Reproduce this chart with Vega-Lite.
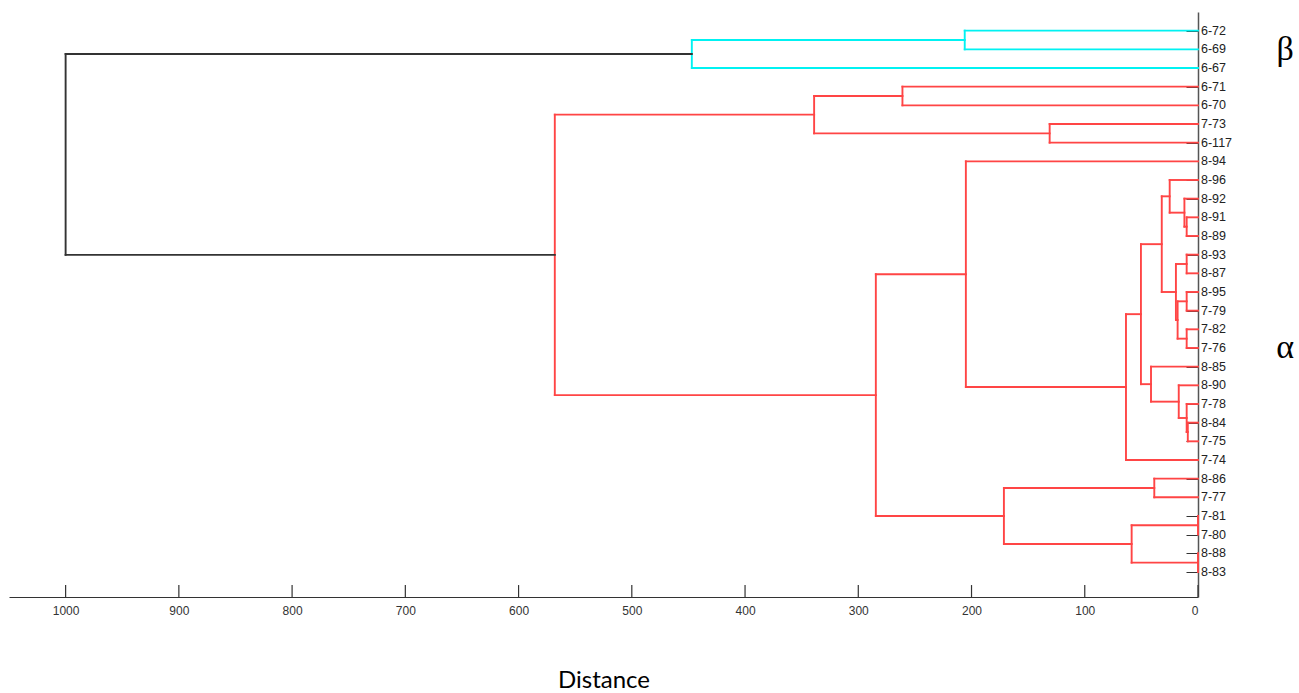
{
  "$schema": "https://vega.github.io/schema/vega-lite/v6.json",
  "width": 1189,
  "height": 585,
  "autosize": {"type": "none"},
  "padding": {"left": 9, "top": 12, "right": 101, "bottom": 96},
  "background": "white",
  "config": {"view": {"stroke": null}},
  "layer": [
    {
      "data": {"values": [
        {"x":206,"x2":206,"y":1,"y2":2,"g":"b"},
        {"x":0,"x2":206,"y":1,"y2":1,"g":"b"},
        {"x":0,"x2":206,"y":2,"y2":2,"g":"b"},
        {"x":447,"x2":447,"y":1.5,"y2":3,"g":"b"},
        {"x":206,"x2":447,"y":1.5,"y2":1.5,"g":"b"},
        {"x":0,"x2":447,"y":3,"y2":3,"g":"b"},
        {"x":261,"x2":261,"y":4,"y2":5,"g":"a"},
        {"x":0,"x2":261,"y":4,"y2":4,"g":"a"},
        {"x":0,"x2":261,"y":5,"y2":5,"g":"a"},
        {"x":131,"x2":131,"y":6,"y2":7,"g":"a"},
        {"x":0,"x2":131,"y":6,"y2":6,"g":"a"},
        {"x":0,"x2":131,"y":7,"y2":7,"g":"a"},
        {"x":339,"x2":339,"y":4.5,"y2":6.5,"g":"a"},
        {"x":261,"x2":339,"y":4.5,"y2":4.5,"g":"a"},
        {"x":131,"x2":339,"y":6.5,"y2":6.5,"g":"a"},
        {"x":10,"x2":10,"y":11,"y2":12,"g":"a"},
        {"x":0,"x2":10,"y":11,"y2":11,"g":"a"},
        {"x":0,"x2":10,"y":12,"y2":12,"g":"a"},
        {"x":12,"x2":12,"y":10,"y2":11.5,"g":"a"},
        {"x":0,"x2":12,"y":10,"y2":10,"g":"a"},
        {"x":10,"x2":12,"y":11.5,"y2":11.5,"g":"a"},
        {"x":25,"x2":25,"y":9,"y2":10.75,"g":"a"},
        {"x":0,"x2":25,"y":9,"y2":9,"g":"a"},
        {"x":12,"x2":25,"y":10.75,"y2":10.75,"g":"a"},
        {"x":10,"x2":10,"y":13,"y2":14,"g":"a"},
        {"x":0,"x2":10,"y":13,"y2":13,"g":"a"},
        {"x":0,"x2":10,"y":14,"y2":14,"g":"a"},
        {"x":10,"x2":10,"y":15,"y2":16,"g":"a"},
        {"x":0,"x2":10,"y":15,"y2":15,"g":"a"},
        {"x":0,"x2":10,"y":16,"y2":16,"g":"a"},
        {"x":10,"x2":10,"y":17,"y2":18,"g":"a"},
        {"x":0,"x2":10,"y":17,"y2":17,"g":"a"},
        {"x":0,"x2":10,"y":18,"y2":18,"g":"a"},
        {"x":18,"x2":18,"y":15.5,"y2":17.5,"g":"a"},
        {"x":10,"x2":18,"y":15.5,"y2":15.5,"g":"a"},
        {"x":10,"x2":18,"y":17.5,"y2":17.5,"g":"a"},
        {"x":19.5,"x2":19.5,"y":13.5,"y2":16.5,"g":"a"},
        {"x":10,"x2":19.5,"y":13.5,"y2":13.5,"g":"a"},
        {"x":18,"x2":19.5,"y":16.5,"y2":16.5,"g":"a"},
        {"x":32,"x2":32,"y":9.875,"y2":15,"g":"a"},
        {"x":25,"x2":32,"y":9.875,"y2":9.875,"g":"a"},
        {"x":19.5,"x2":32,"y":15,"y2":15,"g":"a"},
        {"x":9,"x2":9,"y":22,"y2":23,"g":"a"},
        {"x":0,"x2":9,"y":22,"y2":22,"g":"a"},
        {"x":0,"x2":9,"y":23,"y2":23,"g":"a"},
        {"x":10,"x2":10,"y":21,"y2":22.5,"g":"a"},
        {"x":0,"x2":10,"y":21,"y2":21,"g":"a"},
        {"x":9,"x2":10,"y":22.5,"y2":22.5,"g":"a"},
        {"x":17,"x2":17,"y":20,"y2":21.75,"g":"a"},
        {"x":0,"x2":17,"y":20,"y2":20,"g":"a"},
        {"x":10,"x2":17,"y":21.75,"y2":21.75,"g":"a"},
        {"x":41.5,"x2":41.5,"y":19,"y2":20.875,"g":"a"},
        {"x":0,"x2":41.5,"y":19,"y2":19,"g":"a"},
        {"x":17,"x2":41.5,"y":20.875,"y2":20.875,"g":"a"},
        {"x":50.4,"x2":50.4,"y":12.4375,"y2":19.9375,"g":"a"},
        {"x":32,"x2":50.4,"y":12.4375,"y2":12.4375,"g":"a"},
        {"x":41.5,"x2":50.4,"y":19.9375,"y2":19.9375,"g":"a"},
        {"x":63.6,"x2":63.6,"y":16.1875,"y2":24,"g":"a"},
        {"x":50.4,"x2":63.6,"y":16.1875,"y2":16.1875,"g":"a"},
        {"x":0,"x2":63.6,"y":24,"y2":24,"g":"a"},
        {"x":205,"x2":205,"y":8,"y2":20.09375,"g":"a"},
        {"x":0,"x2":205,"y":8,"y2":8,"g":"a"},
        {"x":63.6,"x2":205,"y":20.09375,"y2":20.09375,"g":"a"},
        {"x":38.6,"x2":38.6,"y":25,"y2":26,"g":"a"},
        {"x":0,"x2":38.6,"y":25,"y2":25,"g":"a"},
        {"x":0,"x2":38.6,"y":26,"y2":26,"g":"a"},
        {"x":0,"x2":0,"y":27,"y2":28,"g":"a"},
        {"x":0,"x2":0,"y":29,"y2":30,"g":"a"},
        {"x":58.6,"x2":58.6,"y":27.5,"y2":29.5,"g":"a"},
        {"x":0,"x2":58.6,"y":27.5,"y2":27.5,"g":"a"},
        {"x":0,"x2":58.6,"y":29.5,"y2":29.5,"g":"a"},
        {"x":171.4,"x2":171.4,"y":25.5,"y2":28.5,"g":"a"},
        {"x":38.6,"x2":171.4,"y":25.5,"y2":25.5,"g":"a"},
        {"x":58.6,"x2":171.4,"y":28.5,"y2":28.5,"g":"a"},
        {"x":284.5,"x2":284.5,"y":14.046875,"y2":27,"g":"a"},
        {"x":205,"x2":284.5,"y":14.046875,"y2":14.046875,"g":"a"},
        {"x":171.4,"x2":284.5,"y":27,"y2":27,"g":"a"},
        {"x":568,"x2":568,"y":5.5,"y2":20.5234,"g":"a"},
        {"x":339,"x2":568,"y":5.5,"y2":5.5,"g":"a"},
        {"x":284.5,"x2":568,"y":20.5234,"y2":20.5234,"g":"a"},
        {"x":1000,"x2":1000,"y":2.25,"y2":13.0117,"g":"k"},
        {"x":447,"x2":1000,"y":2.25,"y2":2.25,"g":"k"},
        {"x":568,"x2":1000,"y":13.0117,"y2":13.0117,"g":"k"}
      ]},
      "mark": {"type": "rule", "strokeWidth": 1.9, "strokeCap": "square"},
      "encoding": {
        "x": {
          "field": "x", "type": "quantitative",
          "scale": {"domain": [0, 1050], "reverse": true, "nice": false, "zero": false},
          "axis": {
            "orient": "bottom",
            "values": [0, 100, 200, 300, 400, 500, 600, 700, 800, 900, 1000],
            "tickCount": 11,
            "format": "d",
            "grid": false,
            "ticks": false,
            "domainColor": "#333",
            "domainWidth": 1.2,
            "labelPadding": 8,
            "labelOverlap": false,
            "labelFont": "Liberation Sans",
            "labelFontSize": 12,
            "labelColor": "#333",
            "title": "Distance",
            "titleFont": "Lato",
            "titleFontSize": 24,
            "titleFontWeight": "normal",
            "titleColor": "#000",
            "titlePadding": 52
          }
        },
        "x2": {"field": "x2"},
        "y": {
          "field": "y", "type": "quantitative",
          "scale": {"domain": [0, 31.34], "reverse": true, "nice": false, "zero": false},
          "axis": {
            "orient": "right",
            "values": [1,2,3,4,5,6,7,8,9,10,11,12,13,14,15,16,17,18,19,20,21,22,23,24,25,26,27,28,29,30],
            "tickCount": 30,
            "grid": false,
            "labels": false,
            "tickSize": -12,
            "tickColor": "#333",
            "tickWidth": 1,
            "domainColor": "#555",
            "domainWidth": 1.5,
            "title": null
          }
        },
        "y2": {"field": "y2"},
        "color": {
          "field": "g", "type": "nominal",
          "scale": {"domain": ["a", "b", "k"], "range": ["#ff4545", "#00f2f2", "#333333"]},
          "legend": null
        }
      }
    },
    {
      "data": {"values": [
        {"v": 0}, {"v": 100}, {"v": 200}, {"v": 300}, {"v": 400}, {"v": 500},
        {"v": 600}, {"v": 700}, {"v": 800}, {"v": 900}, {"v": 1000}
      ]},
      "mark": {"type": "rule", "color": "#333", "strokeWidth": 1.2},
      "encoding": {
        "x": {"field": "v", "type": "quantitative"},
        "y": {"datum": 31.34},
        "y2": {"datum": 30.7}
      }
    },
    {
      "data": {"values": [
        {"name":"6-72","x":0,"y":1},{"name":"6-69","x":0,"y":2},{"name":"6-67","x":0,"y":3},
        {"name":"6-71","x":0,"y":4},{"name":"6-70","x":0,"y":5},{"name":"7-73","x":0,"y":6},
        {"name":"6-117","x":0,"y":7},{"name":"8-94","x":0,"y":8},{"name":"8-96","x":0,"y":9},
        {"name":"8-92","x":0,"y":10},{"name":"8-91","x":0,"y":11},{"name":"8-89","x":0,"y":12},
        {"name":"8-93","x":0,"y":13},{"name":"8-87","x":0,"y":14},{"name":"8-95","x":0,"y":15},
        {"name":"7-79","x":0,"y":16},{"name":"7-82","x":0,"y":17},{"name":"7-76","x":0,"y":18},
        {"name":"8-85","x":0,"y":19},{"name":"8-90","x":0,"y":20},{"name":"7-78","x":0,"y":21},
        {"name":"8-84","x":0,"y":22},{"name":"7-75","x":0,"y":23},{"name":"7-74","x":0,"y":24},
        {"name":"8-86","x":0,"y":25},{"name":"7-77","x":0,"y":26},{"name":"7-81","x":0,"y":27},
        {"name":"7-80","x":0,"y":28},{"name":"8-88","x":0,"y":29},{"name":"8-83","x":0,"y":30}
      ]},
      "mark": {"type": "text", "font": "Liberation Sans", "fontSize": 12.5, "align": "left", "baseline": "middle", "dx": 3, "color": "#222"},
      "encoding": {
        "x": {"field": "x", "type": "quantitative"},
        "y": {"field": "y", "type": "quantitative"},
        "text": {"field": "name"}
      }
    },
    {
      "data": {"values": [
        {"t": "β", "x": -77, "y": 2.02},
        {"t": "α", "x": -77, "y": 18.0}
      ]},
      "mark": {"type": "text", "font": "Liberation Serif", "fontSize": 34, "align": "center", "baseline": "middle", "color": "#000"},
      "encoding": {
        "x": {"field": "x", "type": "quantitative"},
        "y": {"field": "y", "type": "quantitative"},
        "text": {"field": "t"}
      }
    }
  ]
}
